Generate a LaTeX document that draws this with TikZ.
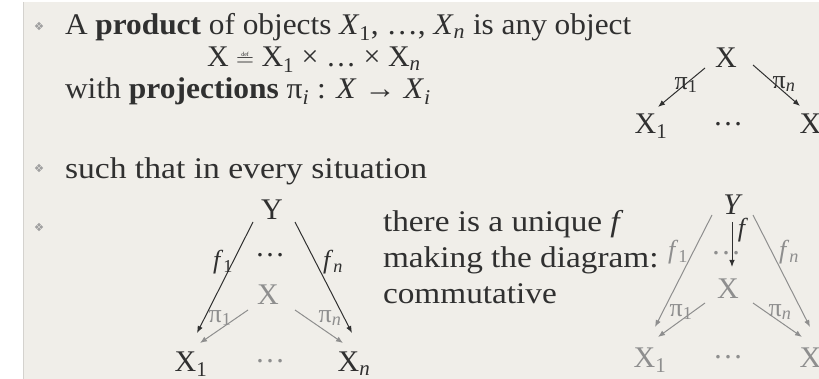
\documentclass[tikz,border=0pt]{standalone}
\usepackage{fontspec}
\setmainfont{Liberation Serif}
\usetikzlibrary{arrows.meta}
\definecolor{bg}{HTML}{F0EEE9}
\definecolor{ink}{HTML}{303030}
\definecolor{faint}{HTML}{8E8E8E}
\definecolor{edge}{HTML}{D4D2CE}
\definecolor{bul}{HTML}{A0A0A0}
\newcommand{\defsym}{\ensuremath{\stackrel{\mbox{\fontsize{6}{6}\selectfont def}}{=}}}
\newcommand{\mysb}[1]{\textsubscript{#1}}
\newcommand{\wide}[1]{\addfontfeatures{FakeStretch=#1}}
\begin{document}
\begin{tikzpicture}[x=1pt,y=-1pt,
  every node/.style={inner sep=0pt,outer sep=0pt},
  txt/.style={anchor=base west,text=ink,font=\fontsize{30}{36}\selectfont},
  obj/.style={text=ink,font=\fontsize{30}{36}\selectfont},
  gobj/.style={text=faint,font=\fontsize{30}{36}\selectfont},
  lab/.style={text=ink,font=\fontsize{26}{30}\selectfont},
  glab/.style={text=faint,font=\fontsize{26}{30}\selectfont},
  arr/.style={draw=ink,line width=1pt,-{Latex[length=7pt,width=5.5pt]}},
  garr/.style={draw=faint,line width=1pt,-{Latex[length=7pt,width=5.5pt]}},
  bullet/.pic={\foreach \a in {0,90,180,270}{\fill[bul] (\a:2.3) circle (1.9);}}
]
\useasboundingbox (0,0) rectangle (819,379);
\clip (0,0) rectangle (819,379);
\fill[white] (0,0) rectangle (819,379);
\fill[bg] (24,2) rectangle (819,379);
\draw[edge,line width=0.8pt] (23.6,2) -- (23.6,379);

% bullets
\pic at (39,26) {bullet};
\pic at (39,168) {bullet};
\pic at (39,227) {bullet};

% text
\node[txt] (l1) at (65,35) {\wide{1.044}A \textbf{product} of objects \textit{X}\mysb{1}, …, \textit{X}\mysb{\textit{n}} is any object};
\node[txt] (l2) at (207,67) {X \defsym\ X\mysb{1} × … × X\mysb{\textit{n}}};
\node[txt] (l3) at (65,99) {\wide{1.05}with \textbf{projections} π\mysb{\textit{i}} : \textit{X} → \textit{X}\mysb{\textit{i}}};
\node[txt] (l4) at (65,179) {\wide{1.12}such that in every situation};
\node[txt] (m1) at (383,232) {\wide{1.11}there is a unique \textit{f}};
\node[txt] (m2) at (383,268) {\wide{1.11}making the diagram:};
\node[txt] (m3) at (383,304) {\wide{1.11}commutative};

% top-right diagram
\node[obj] (tX) at (726,58) {X};
\node[obj] (tX1) at (651,126) {X\mysb{1}};
\node[obj] (tdots) at (728,124) {…};
\node[obj] (tXn) at (816,126) {X\mysb{\textit{n}}};
\draw[arr] ([shift={(-21,10)}]tX.center) -- ([shift={(7,-19)}]tX1.center);
\draw[arr] ([shift={(27,7)}]tX.center) -- ([shift={(-16,-20)}]tXn.center);
\node[lab] (tp1) at (686,85) {π\mysb{1}};
\node[lab] (tpn) at (784,84) {π\mysb{\textit{n}}};

% bottom-left diagram
\node[obj] (aY) at (272,210) {Y};
\node[gobj] (aX) at (268,295) {X};
\node[obj] (adots) at (270,255) {…};
\node[obj] (aX1) at (191,364) {X\mysb{1}};
\node[gobj] (abdots) at (270,361) {…};
\node[obj] (aXn) at (354,364) {X\mysb{\textit{n}}};
\draw[arr] ([shift={(-19,12)}]aY.center) -- ([shift={(6,-31)}]aX1.center);
\draw[arr] ([shift={(23,12)}]aY.center) -- ([shift={(-2,-31)}]aXn.center);
\draw[garr] ([shift={(-20,15)}]aX.center) -- ([shift={(9,-21)}]aX1.center);
\draw[garr] ([shift={(27,15)}]aX.center) -- ([shift={(-11,-21)}]aXn.center);
\node[lab] (af1) at (223,262) {\textit{f}\mysb{1}};
\node[lab] (afn) at (333,262) {\textit{f}\mysb{\textit{n}}};
\node[glab] (ap1) at (220,318) {π\mysb{1}};
\node[glab] (apn) at (330,318) {π\mysb{\textit{n}}};

% bottom-right diagram
\node[obj] (bY) at (733,205) {\textit{Y}};
\node[gobj] (bX) at (728,289) {X};
\node[gobj] (bdots) at (726,253) {…};
\node[gobj] (bX1) at (650,360) {X\mysb{1}};
\node[gobj] (bbdots) at (728,357) {…};
\node[gobj] (bXn) at (816,360) {X\mysb{\textit{n}}};
\draw[garr] ([shift={(-21,10)}]bY.center) -- ([shift={(5,-33)}]bX1.center);
\draw[garr] ([shift={(20,10)}]bY.center) -- ([shift={(-6,-33)}]bXn.center);
\draw[garr] ([shift={(-23,14)}]bX.center) -- ([shift={(8,-23)}]bX1.center);
\draw[garr] ([shift={(25,14)}]bX.center) -- ([shift={(-14,-23)}]bXn.center);
\draw[arr] ([shift={(-1,17)}]bY.center) -- ([shift={(4,-22)}]bX.center);
\node[lab] (bf) at (743,230) {\textit{f}};
\node[glab] (bf1) at (678,252) {\textit{f}\mysb{1}};
\node[glab] (bfn) at (789,252) {\textit{f}\mysb{\textit{n}}};
\node[glab] (bp1) at (681,312) {π\mysb{1}};
\node[glab] (bpn) at (780,312) {π\mysb{\textit{n}}};
\end{tikzpicture}
\end{document}
